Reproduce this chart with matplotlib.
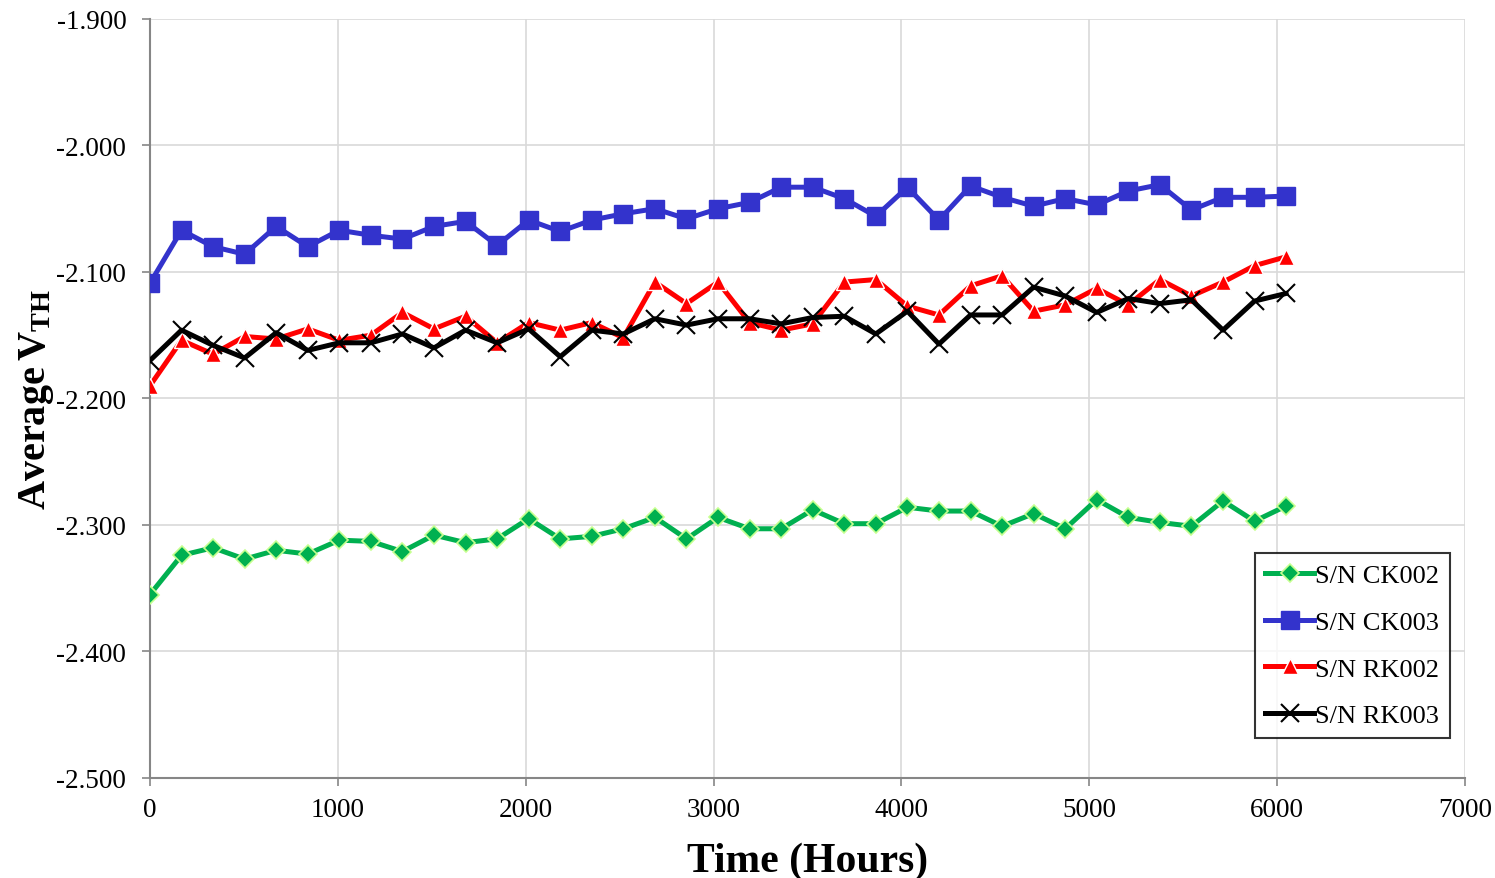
import matplotlib
matplotlib.use('Agg')
import matplotlib.pyplot as plt
from matplotlib.ticker import MultipleLocator, FormatStrFormatter

plt.rcParams['font.family'] = ['Liberation Serif', 'DejaVu Serif']
plt.rcParams['mathtext.fontset'] = 'custom'
plt.rcParams['mathtext.rm'] = 'Liberation Serif'
plt.rcParams['mathtext.bf'] = 'Liberation Serif:bold'

# weekly readings, hours on test
hours = [168 * i for i in range(37)]

ck002 = [-2.355, -2.324, -2.318, -2.327, -2.320, -2.323, -2.312, -2.313, -2.321,
         -2.308, -2.314, -2.311, -2.295, -2.311, -2.309, -2.303, -2.294, -2.311,
         -2.294, -2.303, -2.303, -2.288, -2.299, -2.299, -2.286, -2.289, -2.289,
         -2.301, -2.291, -2.303, -2.280, -2.294, -2.298, -2.301, -2.281, -2.297,
         -2.285]
ck003 = [-2.109, -2.067, -2.080, -2.086, -2.064, -2.080, -2.067, -2.071, -2.074,
         -2.064, -2.060, -2.079, -2.059, -2.068, -2.059, -2.054, -2.050, -2.058,
         -2.050, -2.045, -2.033, -2.033, -2.042, -2.056, -2.033, -2.059, -2.032,
         -2.041, -2.048, -2.042, -2.047, -2.036, -2.031, -2.051, -2.041, -2.041,
         -2.040]
rk002 = [-2.190, -2.154, -2.165, -2.151, -2.153, -2.145, -2.154, -2.150, -2.132,
         -2.145, -2.135, -2.156, -2.140, -2.146, -2.140, -2.152, -2.108, -2.125,
         -2.108, -2.140, -2.146, -2.141, -2.108, -2.106, -2.127, -2.134, -2.111,
         -2.103, -2.131, -2.126, -2.113, -2.126, -2.106, -2.119, -2.108, -2.095,
         -2.088]
rk003 = [-2.170, -2.146, -2.158, -2.168, -2.148, -2.162, -2.156, -2.156, -2.149,
         -2.160, -2.146, -2.156, -2.145, -2.167, -2.146, -2.149, -2.137, -2.142,
         -2.137, -2.137, -2.141, -2.136, -2.135, -2.149, -2.131, -2.157, -2.134,
         -2.134, -2.112, -2.119, -2.132, -2.121, -2.125, -2.122, -2.146, -2.123,
         -2.117]

fig = plt.figure(figsize=(14.95, 8.79), dpi=100)
ax = fig.add_axes([0.1003, 0.1138, 0.8796, 0.8635])

ax.plot(hours, ck002, color='#00B050', lw=3.6, marker='D', ms=9.5,
        mfc='#00B050', mec='#C6FF90', mew=1.2, label='S/N CK002', zorder=3)
ax.plot(hours, ck003, color='#3333CC', lw=3.6, marker='s', ms=13,
        mfc='#3333CC', mec='#3333CC', label='S/N CK003', zorder=4)
ax.plot(hours, rk002, color='#FF0000', lw=3.6, marker='^', ms=11.5,
        mfc='#FF0000', mec='white', mew=1, label='S/N RK002', zorder=5)
ax.plot(hours, rk003, color='black', lw=3.6, marker='x', ms=12.5, mew=1.5,
        label='S/N RK003', zorder=6)

ax.set_xlim(0, 7000)
ax.set_ylim(-2.5, -1.9)
ax.xaxis.set_major_locator(MultipleLocator(1000))
ax.yaxis.set_major_locator(MultipleLocator(0.1))
ax.yaxis.set_major_formatter(FormatStrFormatter('%.3f'))

ax.grid(True, color='#D9D9D9', lw=1.2)
ax.set_axisbelow(True)
for s in ['top', 'right']:
    ax.spines[s].set_visible(False)
for s in ['left', 'bottom']:
    ax.spines[s].set_color('#868686')
    ax.spines[s].set_linewidth(1.5)
ax.tick_params(axis='both', colors='#868686', labelcolor='black',
               labelsize=19.5, length=6, width=1.2, direction='out')
ax.tick_params(axis='y', pad=11)
ax.tick_params(axis='x', pad=8)

ax.set_xlabel('Time (Hours)', fontsize=30, fontweight='bold', labelpad=14)
ax.set_ylabel(r'$\mathbf{Average\,V_{TH}}$', fontsize=29, labelpad=0)

leg = ax.legend(loc='lower right', bbox_to_anchor=(0.9886, 0.0527), fontsize=19,
                frameon=True, fancybox=False, edgecolor='black',
                handlelength=1.85, handletextpad=0.05, labelspacing=0.88,
                borderpad=0.4, borderaxespad=0)
leg.get_frame().set_linewidth(1.5)

fig.savefig('out.png', dpi=100)
